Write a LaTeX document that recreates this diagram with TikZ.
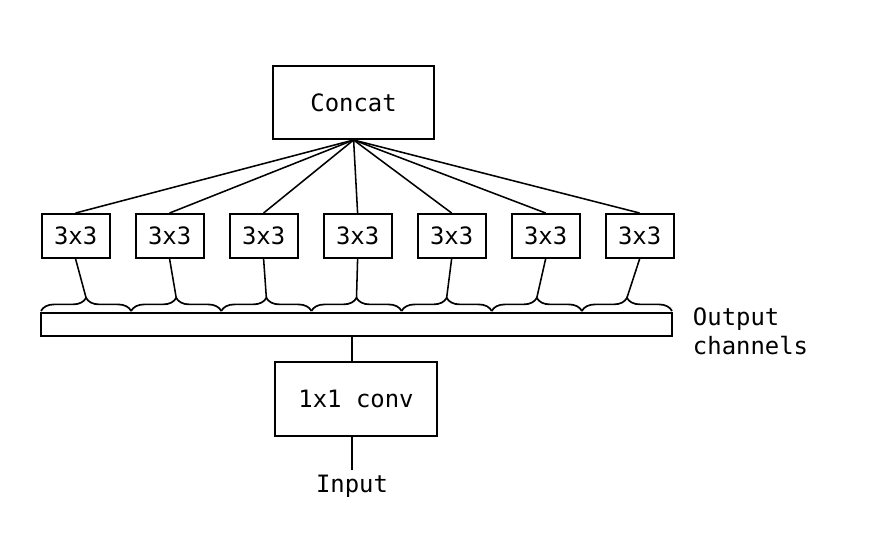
\documentclass[tikz,border=0pt]{standalone}
\usepackage{fontspec}
\setmonofont{DejaVu Sans Mono}
\usetikzlibrary{decorations.pathreplacing}

\begin{document}
\begin{tikzpicture}[x=1cm,y=1cm,font=\ttfamily\fontsize{17}{20.5}\selectfont,
 blk/.style={draw,line width=1.4pt,minimum width=4.03cm,minimum height=1.83cm},
 kern/.style={draw,line width=1.4pt,minimum width=1.7cm,minimum height=1.1cm,inner sep=0pt},
 wire/.style={line width=1.1pt},
 brc/.style={line width=1.2pt,decorate,decoration={brace,amplitude=.33cm}}]
 \useasboundingbox (0,0) rectangle (21.95,13.35);
 \node[blk] (concat) at (8.84,10.79) {Concat};
 \node[draw,line width=1.4pt,minimum width=15.775cm,minimum height=.575cm,inner sep=0pt] (bar) at (8.9125,5.2375) {};
 \node[anchor=west,align=left] (outlbl) at (17.2,5.075) {Output\\channels};
 % one 3x3 per group of channels
 \foreach \i in {1,...,7}{
   \node[kern] (k\i) at ({1.89+(\i-1)*2.35},7.45) {3x3};
   \draw[brc] ({1.025+(\i-1)*2.2536},5.575) -- ({1.025+\i*2.2536},5.575);
   \coordinate (t\i) at ({1.025+(\i-.5)*2.2536},5.905);
   \draw[wire] (k\i.south) -- (t\i);
   \draw[wire] (concat.south) -- (k\i.north);
 }
 \node[blk,minimum width=4.05cm,minimum height=1.85cm] (pw) at (8.9,3.375) {1x1 conv};
 \node[anchor=base] (input) at (8.8,1.05) {Input};
 \draw[wire] (input.north) -- (input.north |- pw.south);
 \draw[wire] (input.north |- pw.north) -- (input.north |- bar.south);
\end{tikzpicture}
\end{document}
